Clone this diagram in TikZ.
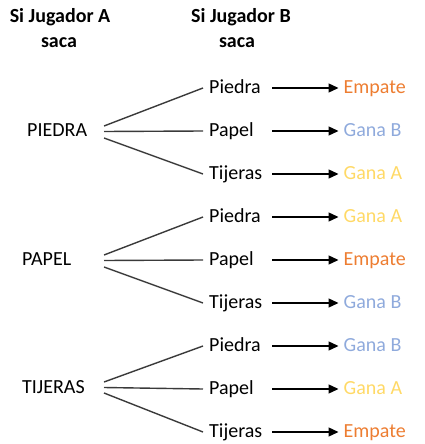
\documentclass[tikz,border=0pt]{standalone}
\usepackage{fontspec}
\setmainfont{Carlito}
\usetikzlibrary{arrows.meta}
\definecolor{cEmp}{HTML}{ED7D31}
\definecolor{cGB}{HTML}{8FAADC}
\definecolor{cGA}{HTML}{FFD966}
\definecolor{cLine}{HTML}{3A3A3A}
\begin{document}
\begin{tikzpicture}[x=1pt,y=-1pt,
  every node/.style={font=\fontsize{20}{24}\selectfont},
  head/.style={anchor=base,inner sep=0pt,font=\fontsize{20}{24}\selectfont\bfseries},
  anode/.style={anchor=base west,inner sep=0pt},
  bnode/.style={anchor=base west,inner xsep=6pt,inner ysep=0pt,text height=14pt,text depth=4pt,text width=57pt,align=left},
  res/.style={anchor=base west,inner xsep=5pt,inner ysep=0pt,text height=14pt,text depth=4pt},
  branch/.style={draw=cLine,line width=1.4pt},
  outarrow/.style={draw=black,line width=1.3pt,-{Triangle[length=10pt,width=9pt]}}
]
\useasboundingbox (0,0) rectangle (425,444);
\node[head] (hA1) at (60,23) {Si Jugador A};
\node[head] (hA2) at (59,48) {saca};
\node[head] (hB1) at (241,23) {Si Jugador B};
\node[head] (hB2) at (237,48) {saca};

\node[anode] (A1) at (27,136) {PIEDRA};
\node[anode] (A2) at (22,265) {PAPEL};
\node[anode] (A3) at (22,393) {TIJERAS};

\foreach \i/\t/\r/\c in {1/Piedra/Empate/cEmp,2/Papel/Gana B/cGB,3/Tijeras/Gana A/cGA,
  4/Piedra/Gana A/cGA,5/Papel/Empate/cEmp,6/Tijeras/Gana B/cGB,
  7/Piedra/Gana B/cGB,8/Papel/Gana A/cGA,9/Tijeras/Empate/cEmp}{
  \node[bnode] (B\i) at (203,{93+43*(\i-1)}) {\t};
  \node[res,text=\c] (R\i) at (338.5,{93+43*(\i-1)}) {\r};
  \draw[outarrow] (B\i.east) -- (R\i.west);
}

\coordinate (A1u) at (104,126);
\coordinate (A1m) at (104,131.5);
\coordinate (A1d) at (104,138);
\coordinate (A2u) at (104,255);
\coordinate (A2m) at (104,260.5);
\coordinate (A2d) at (104,267);
\coordinate (A3u) at (104,382);
\coordinate (A3m) at (104,387.5);
\coordinate (A3d) at (104,393);

\draw[branch] (A1u) -- (B1.west);
\draw[branch] (A1m) -- (B2.west);
\draw[branch] (A1d) -- (B3.west);
\draw[branch] (A2u) -- (B4.west);
\draw[branch] (A2m) -- (B5.west);
\draw[branch] (A2d) -- (B6.west);
\draw[branch] (A3u) -- (B7.west);
\draw[branch] (A3m) -- (B8.west);
\draw[branch] (A3d) -- (B9.west);
\end{tikzpicture}
\end{document}
